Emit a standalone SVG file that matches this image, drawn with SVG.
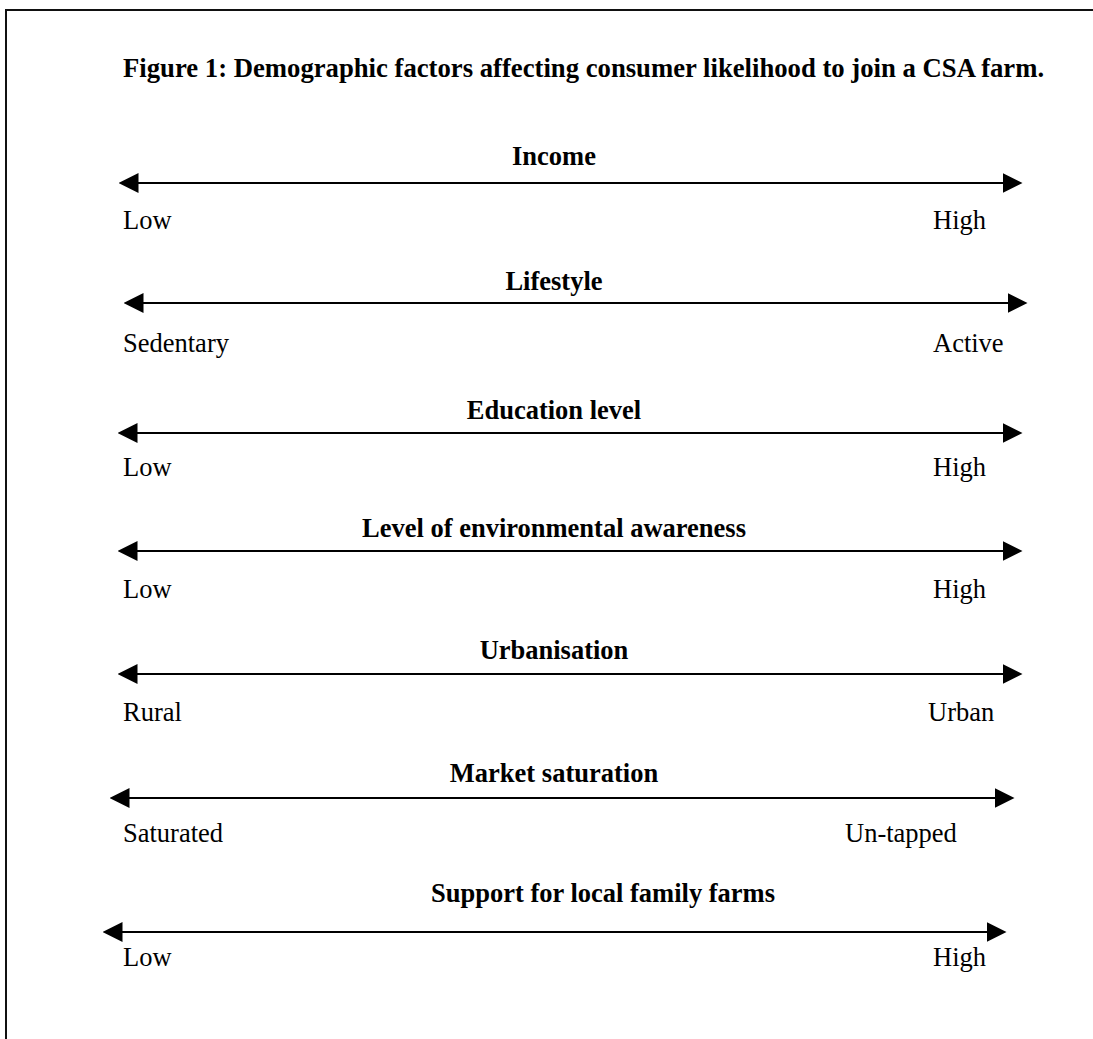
<svg xmlns="http://www.w3.org/2000/svg" width="1093" height="1039" viewBox="0 0 1093 1039">
<style>
text { font-family: "Liberation Serif", "Times New Roman", serif; font-size: 26.5px; fill: #000; }
.t { font-weight: bold; font-size: 26.7px; }
.h { font-weight: bold; text-anchor: middle; }
.axis { stroke: #000; stroke-width: 2; fill: none; marker-start: url(#ah); marker-end: url(#ah); }
</style>
<defs>
<marker id="ah" markerUnits="userSpaceOnUse" markerWidth="20" markerHeight="20" viewBox="0 0 20 20" refX="0.5" refY="10" orient="auto-start-reverse">
<path d="M0,0 L20,10 L0,20 Z" fill="#000"/>
</marker>
</defs>
<rect width="1093" height="1039" fill="#fff"/>
<path d="M6,1039 V10 H1093" fill="none" stroke="#111" stroke-width="2"/>
<text class="t" x="123" y="77">Figure 1: Demographic factors affecting consumer likelihood to join a CSA farm.</text>
<g id="connectors">
<line class="axis" x1="138" y1="183" x2="1003" y2="183"/>
<line class="axis" x1="143" y1="303" x2="1008" y2="303"/>
<line class="axis" x1="137" y1="433" x2="1003" y2="433"/>
<line class="axis" x1="137" y1="551" x2="1003" y2="551"/>
<line class="axis" x1="137" y1="674" x2="1003" y2="674"/>
<line class="axis" x1="129" y1="798" x2="995" y2="798"/>
<line class="axis" x1="122" y1="932" x2="987" y2="932"/>
</g>
<g id="income">
<text class="h" x="554" y="165">Income</text>
<text x="123" y="229">Low</text>
<text x="933" y="229">High</text>
</g>
<g id="lifestyle">
<text class="h" x="554" y="290">Lifestyle</text>
<text x="123" y="352">Sedentary</text>
<text x="933" y="352">Active</text>
</g>
<g id="education">
<text class="h" x="554" y="419">Education level</text>
<text x="123" y="476">Low</text>
<text x="933" y="476">High</text>
</g>
<g id="environment">
<text class="h" x="554" y="537">Level of environmental awareness</text>
<text x="123" y="598">Low</text>
<text x="933" y="598">High</text>
</g>
<g id="urbanisation">
<text class="h" x="554" y="659">Urbanisation</text>
<text x="123" y="721">Rural</text>
<text x="928" y="721">Urban</text>
</g>
<g id="market">
<text class="h" x="554" y="782">Market saturation</text>
<text x="123" y="842">Saturated</text>
<text x="845" y="842">Un-tapped</text>
</g>
<g id="support">
<text class="h" x="603" y="902">Support for local family farms</text>
<text x="123" y="966">Low</text>
<text x="933" y="966">High</text>
</g>
</svg>
